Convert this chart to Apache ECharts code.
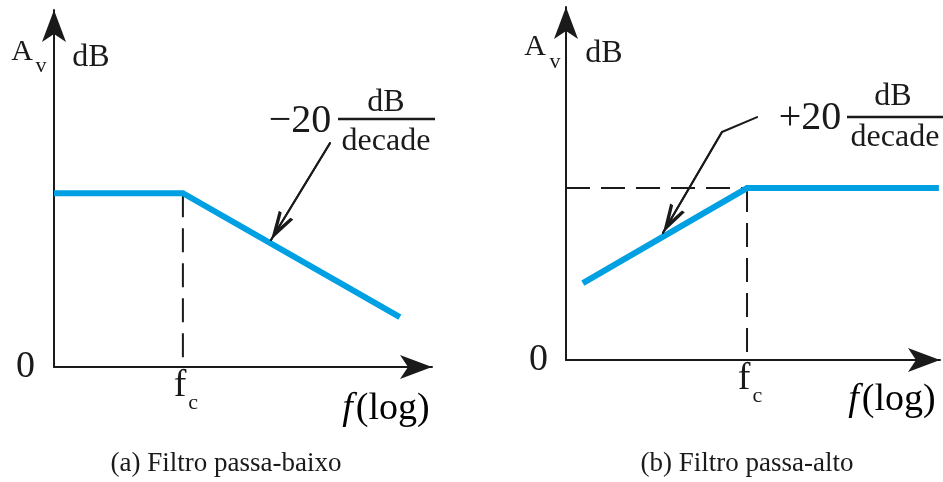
<!DOCTYPE html>
<html>
<head>
<meta charset="utf-8">
<script src="https://cdn.jsdelivr.net/npm/echarts@6.0.0/dist/echarts.min.js"></script>
<style>
html,body{margin:0;padding:0;background:#ffffff;}
#chart{width:943px;height:482px;}
</style>
</head>
<body>
<div id="chart"></div>
<script>
// ---------- data (axis units: x = position on log-frequency axis, y = gain) ----------
const axisMin = 0;
const axisMax = 10;

// (a) low-pass
const lowFc = 3.41;
const lowPassX = [0, 3.41, 9.15];
const lowPassY = [4.87, 4.87, 1.40];
const lowDropX = [3.41, 3.41];
const lowDropY = [4.87, 0];
const lowLeaderX = [7.30, 5.74];
const lowLeaderY = [6.27, 3.56];

// (b) high-pass
const highFc = 4.84;
const highPassX = [0.45, 4.84, 9.97];
const highPassY = [2.18, 4.87, 4.87];
const highLevelX = [0, 4.84];
const highLevelY = [4.87, 4.87];
const highDropX = [4.84, 4.84];
const highDropY = [4.87, 0];
const highLeaderX = [5.11, 4.17, 2.59];
const highLeaderY = [6.88, 6.46, 3.60];

// tick labels
const yTickValues = [0];
const yTickLabels = ['0'];
const fcLabelMain = 'f';
const fcLabelSub = 'c';

// texts
const gainSymbol = 'A';
const gainSub = 'v';
const gainUnit = 'dB';
const slopeLow = '\u221220';
const slopeHigh = '+20';
const slopeNum = 'dB';
const slopeDen = 'decade';
const freqItalic = 'f';
const freqRest = '(log)';
const captionLow = '(a) Filtro passa-baixo';
const captionHigh = '(b) Filtro passa-alto';

// ---------- styling ----------
const INK = '#1a1a1a';
const BLUE = '#00a0e3';
const SERIF = '"Liberation Serif", "Times New Roman", serif';
// arrow head whose tip sits at the centre of its bounding box
const ARROW = 'path://M10,28 L20,56 L16,56 L10,40 L4,56 L0,56 Z M10,0 L10,0';

function zip(xs, ys) { return xs.map((x, i) => [x, ys[i]]); }

function makeXAxis(gridIndex, fc) {
  return {
    type: 'value', gridIndex, min: axisMin, max: axisMax,
    axisLine: { show: true, onZero: false, symbol: ['none', 'arrow'], symbolSize: [18, 32],
      lineStyle: { color: INK, width: 2 } },
    axisTick: { show: false },
    splitLine: { show: false },
    axisLabel: {
      show: true, customValues: [fc], margin: 0,
      formatter: () => '{f|' + fcLabelMain + '}{c|' + fcLabelSub + '}',
      rich: {
        f: { fontFamily: SERIF, fontSize: 38, color: INK, padding: [0, 0, 0, 6] },
        c: { fontFamily: SERIF, fontSize: 22, color: INK, lineHeight: 3, padding: [35, 0, 0, 2] }
      }
    }
  };
}
function makeYAxis(gridIndex, margin) {
  return {
    type: 'value', gridIndex, min: axisMin, max: axisMax,
    axisLine: { show: true, onZero: false, symbol: ['none', 'arrow'], symbolSize: [18, 32],
      lineStyle: { color: INK, width: 2 } },
    axisTick: { show: false },
    splitLine: { show: false },
    axisLabel: {
      show: true, customValues: yTickValues, margin,
      formatter: (v) => { const i = yTickValues.indexOf(v); return i >= 0 ? yTickLabels[i] : ''; },
      fontFamily: SERIF, fontSize: 38, color: INK
    }
  };
}

function bodeLine(xi, xs, ys) {
  return { type: 'line', xAxisIndex: xi, yAxisIndex: xi, data: zip(xs, ys), symbol: 'none',
    clip: false, silent: true, z: 4,
    lineStyle: { color: BLUE, width: 6, join: 'miter', cap: 'butt' } };
}
function dashLine(xi, xs, ys) {
  return { type: 'line', xAxisIndex: xi, yAxisIndex: xi, data: zip(xs, ys), symbol: 'none',
    clip: false, silent: true, z: 3,
    lineStyle: { color: INK, width: 2, type: [24, 11] } };
}
function leader(xi, xs, ys) {
  const n = xs.length;
  return { type: 'line', xAxisIndex: xi, yAxisIndex: xi, data: zip(xs, ys), symbol: 'none',
    clip: false, silent: true, z: 6,
    lineStyle: { color: INK, width: 2, join: 'round', cap: 'round' },
    markLine: {
      silent: true, animation: false, symbol: ['none', ARROW], symbolSize: [17, 58],
      label: { show: false },
      lineStyle: { color: INK, width: 2, type: 'solid', cap: 'round' },
      data: [[{ coord: [xs[n - 2], ys[n - 2]] }, { coord: [xs[n - 1], ys[n - 1]] }]]
    } };
}

function txt(x, y, text, size, extra) {
  return { type: 'text', x, y, silent: true, z: 10,
    style: Object.assign({ text, fontFamily: SERIF, fontSize: size, fill: INK,
      align: 'center', verticalAlign: 'middle' }, extra || {}) };
}
function freqLabel(x, y) {
  return { type: 'text', x, y, silent: true, z: 10,
    style: { text: '{i|' + freqItalic + '}{n|' + freqRest + '}', align: 'center', verticalAlign: 'middle',
      rich: {
        i: { fontFamily: SERIF, fontSize: 38, fontStyle: 'italic', color: INK, padding: [0, 3, 0, 0] },
        n: { fontFamily: SERIF, fontSize: 38, color: INK }
      } } };
}
function bar(x1, x2, y) {
  return { type: 'line', silent: true, z: 10, shape: { x1, y1: y, x2, y2: y },
    style: { stroke: INK, lineWidth: 2.5 } };
}

const chart = echarts.init(document.getElementById('chart'), null, { renderer: 'canvas' });
chart.setOption({
  animation: false,
  backgroundColor: '#ffffff',
  grid: [
    { left: 54, top: 10, width: 378, height: 357, containLabel: false, outerBoundsMode: 'none' },
    { left: 566, top: 7, width: 374, height: 353, containLabel: false, outerBoundsMode: 'none' }
  ],
  xAxis: [makeXAxis(0, lowFc), makeXAxis(1, highFc)],
  yAxis: [makeYAxis(0, 19), makeYAxis(1, 18)],
  series: [
    dashLine(0, lowDropX, lowDropY),
    bodeLine(0, lowPassX, lowPassY),
    leader(0, lowLeaderX, lowLeaderY),
    dashLine(1, highLevelX, highLevelY),
    dashLine(1, highDropX, highDropY),
    bodeLine(1, highPassX, highPassY),
    leader(1, highLeaderX, highLeaderY)
  ],
  graphic: [
    // (a)
    txt(22, 52, gainSymbol, 30),
    txt(41, 66, gainSub, 22),
    txt(91, 58, gainUnit, 32),
    txt(300, 121, slopeLow, 40),
    bar(338, 435, 119),
    txt(386, 103, slopeNum, 32),
    txt(386, 142, slopeDen, 32),
    freqLabel(386, 409),
    txt(226, 464, captionLow, 27),
    // (b)
    txt(535, 47, gainSymbol, 30),
    txt(555, 62, gainSub, 22),
    txt(604, 54, gainUnit, 32),
    txt(810, 118, slopeHigh, 40),
    bar(847, 943, 117),
    txt(893, 97, slopeNum, 32),
    txt(895, 138, slopeDen, 32),
    freqLabel(892, 400),
    txt(747, 464, captionHigh, 27)
  ]
});
</script>
</body>
</html>
